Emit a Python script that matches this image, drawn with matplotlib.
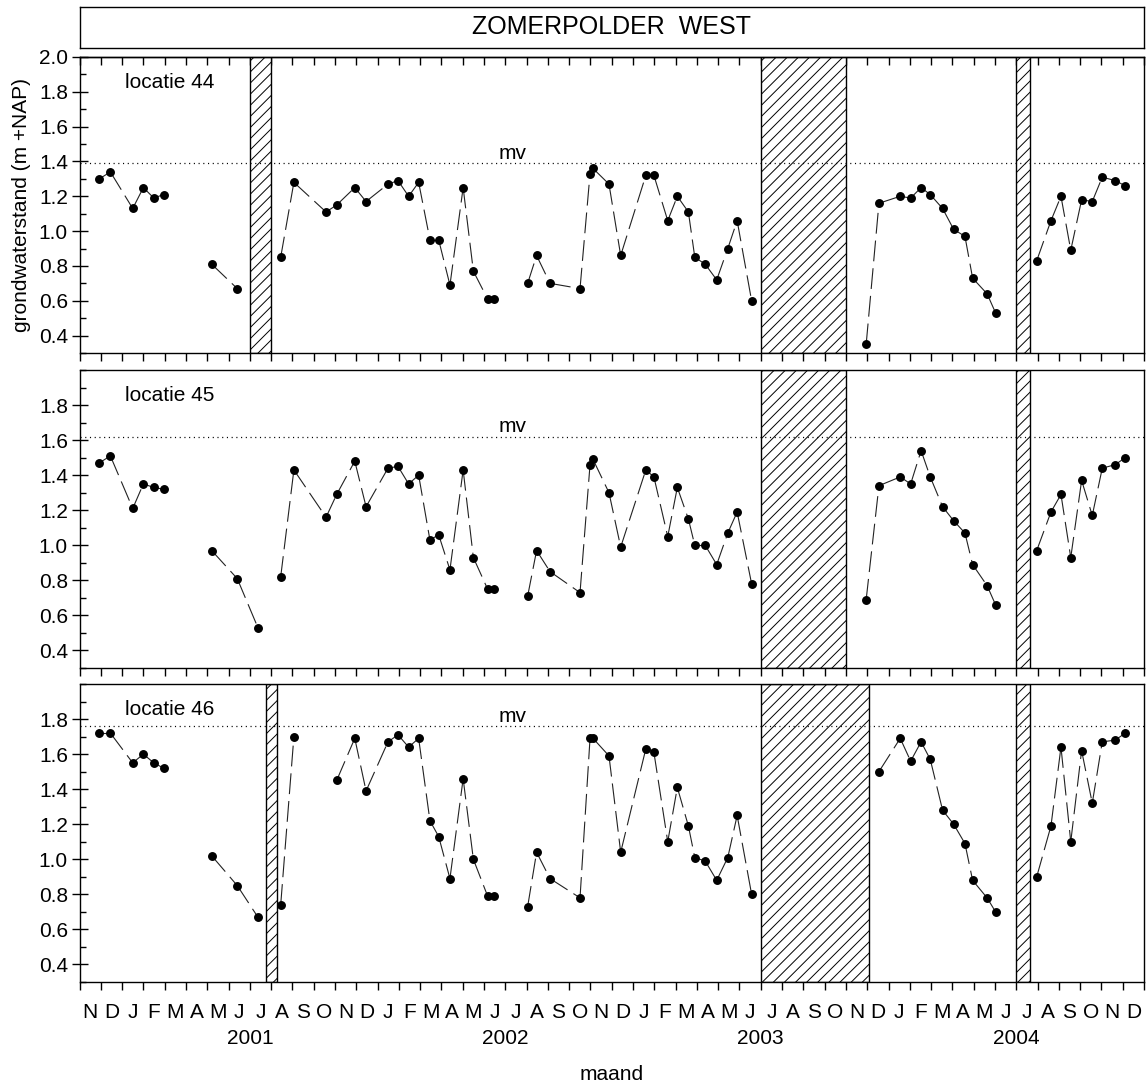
import numpy as np
import matplotlib
matplotlib.use('Agg')
import matplotlib.pyplot as plt
import matplotlib.transforms as mtransforms

plt.rcParams['font.family'] = ['Liberation Sans', 'DejaVu Sans']
plt.rcParams['hatch.linewidth'] = 0.7
plt.rcParams['lines.scale_dashes'] = False

title = "ZOMERPOLDER  WEST"
ylabel = "grondwaterstand (m +NAP)"
xlabel = "maand"
months = ['N', 'D'] + ['J', 'F', 'M', 'A', 'M', 'J', 'J', 'A', 'S', 'O', 'N', 'D'] * 4
years = ['2001', '2002', '2003', '2004']
year_mid = [8.0, 20.0, 32.0, 44.0]          # months since 1 Nov 2000
nan = np.nan

# sampling moments (months since 1 Nov 2000); nan marks a break in the line
t44 = [0.93, 1.45, 2.50, 3.00, 3.49, 3.95, nan, 6.21, 7.41, nan,
       9.45, 10.07, 11.58, 12.08, 12.93, 13.46, 14.49, 14.96, 15.46, 15.93,
       16.46, 16.87, 17.40, 18.02, 18.50, 19.17, 19.48, nan,
       21.05, 21.47, 22.10, 23.51, 23.98, 24.12, 24.87, 25.42, 26.60, 26.98,
       27.63, 28.08, 28.60, 28.90, 29.39, 29.93, 30.45, 30.89, 31.57, nan,
       36.95, 37.55, 38.55, 39.04, 39.53, 39.96, 40.54, 41.06, 41.59, 41.95,
       42.63, 43.03, nan,
       44.96, 45.63, 46.10, 46.56, 47.07, 47.57, 48.04, 48.65, 49.12]
v44 = [1.30, 1.34, 1.13, 1.25, 1.19, 1.21, nan, 0.81, 0.67, nan,
       0.85, 1.28, 1.11, 1.15, 1.25, 1.17, 1.27, 1.29, 1.20, 1.28,
       0.95, 0.95, 0.69, 1.25, 0.77, 0.61, 0.61, nan,
       0.70, 0.86, 0.70, 0.67, 1.33, 1.36, 1.27, 0.86, 1.32, 1.32,
       1.06, 1.20, 1.11, 0.85, 0.81, 0.72, 0.90, 1.06, 0.60, nan,
       0.35, 1.16, 1.20, 1.19, 1.25, 1.21, 1.13, 1.01, 0.97, 0.73,
       0.64, 0.53, nan,
       0.83, 1.06, 1.20, 0.89, 1.18, 1.17, 1.31, 1.29, 1.26]

t45 = [0.93, 1.45, 2.50, 3.00, 3.49, 3.95, nan, 6.21, 7.41, 8.38, nan,
       9.45, 10.07, 11.58, 12.08, 12.93, 13.46, 14.49, 14.96, 15.46, 15.93,
       16.46, 16.87, 17.40, 18.02, 18.50, 19.17, 19.48, nan,
       21.05, 21.47, 22.10, 23.51, 23.98, 24.12, 24.87, 25.42, 26.60, 26.98,
       27.63, 28.08, 28.60, 28.90, 29.39, 29.93, 30.45, 30.89, 31.57, nan,
       36.95, 37.55, 38.55, 39.04, 39.53, 39.96, 40.54, 41.06, 41.59, 41.95,
       42.63, 43.03, nan,
       44.96, 45.63, 46.10, 46.56, 47.07, 47.57, 48.04, 48.65, 49.12]
v45 = [1.47, 1.51, 1.21, 1.35, 1.33, 1.32, nan, 0.97, 0.81, 0.53, nan,
       0.82, 1.43, 1.16, 1.29, 1.48, 1.22, 1.44, 1.45, 1.35, 1.40,
       1.03, 1.06, 0.86, 1.43, 0.93, 0.75, 0.75, nan,
       0.71, 0.97, 0.85, 0.73, 1.46, 1.49, 1.30, 0.99, 1.43, 1.39,
       1.05, 1.33, 1.15, 1.00, 1.00, 0.89, 1.07, 1.19, 0.78, nan,
       0.69, 1.34, 1.39, 1.35, 1.54, 1.39, 1.22, 1.14, 1.07, 0.89,
       0.77, 0.66, nan,
       0.97, 1.19, 1.29, 0.93, 1.37, 1.17, 1.44, 1.46, 1.50]

t46 = [0.93, 1.45, 2.50, 3.00, 3.49, 3.95, nan, 6.21, 7.41, 8.38, nan,
       9.45, 10.07, nan, 12.08, 12.93, 13.46, 14.49, 14.96, 15.46, 15.93,
       16.46, 16.87, 17.40, 18.02, 18.50, 19.17, 19.48, nan,
       21.05, 21.47, 22.10, 23.51, 23.98, 24.12, 24.87, 25.42, 26.60, 26.98,
       27.63, 28.08, 28.60, 28.90, 29.39, 29.93, 30.45, 30.89, 31.57, nan,
       37.55, 38.55, 39.04, 39.53, 39.96, 40.54, 41.06, 41.59, 41.95,
       42.63, 43.03, nan,
       44.96, 45.63, 46.10, 46.56, 47.07, 47.57, 48.04, 48.65, 49.12]
v46 = [1.72, 1.72, 1.55, 1.60, 1.55, 1.52, nan, 1.02, 0.85, 0.67, nan,
       0.74, 1.70, nan, 1.45, 1.69, 1.39, 1.67, 1.71, 1.64, 1.69,
       1.22, 1.13, 0.89, 1.46, 1.00, 0.79, 0.79, nan,
       0.73, 1.04, 0.89, 0.78, 1.69, 1.69, 1.59, 1.04, 1.63, 1.61,
       1.10, 1.41, 1.19, 1.01, 0.99, 0.88, 1.01, 1.25, 0.80, nan,
       1.50, 1.69, 1.56, 1.67, 1.57, 1.28, 1.20, 1.09, 0.88,
       0.78, 0.70, nan,
       0.90, 1.19, 1.64, 1.10, 1.62, 1.32, 1.67, 1.68, 1.72]

# dry periods (hatched), months since 1 Nov 2000
dry44 = [(8.0, 9.0), (32.0, 36.0), (43.97, 44.65)]
dry45 = [(32.0, 36.0), (43.97, 44.65)]
dry46 = [(8.74, 9.26), (32.0, 37.08), (43.97, 44.65)]

mv_levels = [1.39, 1.62, 1.76]
names = ['locatie 44', 'locatie 45', 'locatie 46']

panels = [(t44, v44, dry44), (t45, v45, dry45), (t46, v46, dry46)]

W, H = 1146, 1090
fig = plt.figure(figsize=(W / 100, H / 100), dpi=100)


def fax(x0, y0, x1, y1):
    return fig.add_axes([x0 / W, 1 - y1 / H, (x1 - x0) / W, (y1 - y0) / H])


FS = 15
# title box
tax = fax(80, 7, 1144, 48)
tax.set_xticks([])
tax.set_yticks([])
for s in tax.spines.values():
    s.set_linewidth(1.0)
tax.text(0.5, 0.5, title, ha='center', va='center', fontsize=18, transform=tax.transAxes)

panel_px = [(57, 353), (370, 668), (684, 982)]
axes = []
for k, ((t, v, dry), (y0, y1)) in enumerate(zip(panels, panel_px)):
    ax = fax(79.5, y0, 1144, y1)
    axes.append(ax)
    ax.set_xlim(0, 50)
    ax.set_ylim(0.3, 2.0)
    for s in ax.spines.values():
        s.set_linewidth(1.0)
    for (a, b) in dry:
        ax.axvspan(a, b, facecolor='white', edgecolor='black', hatch='///',
                   linewidth=1.0, zorder=1)
    ax.axhline(mv_levels[k], color='black', linestyle=(0, (0.8, 2.6)), linewidth=0.9, zorder=2)
    ax.annotate('mv', xy=(0.407, mv_levels[k]), xycoords=('axes fraction', 'data'),
                xytext=(0, 7), textcoords='offset points', ha='center', va='center',
                fontsize=FS)
    ta = np.array(t, dtype=float)
    va_ = np.array(v, dtype=float)
    for i in range(len(ta) - 1):
        if np.isfinite(va_[i]) and np.isfinite(va_[i + 1]):
            ax.plot(ta[i:i + 2], va_[i:i + 2], color='#222222', linewidth=0.8,
                    dashes=(15, 5), zorder=3)
    ax.plot(ta, va_, 'o', color='black', markersize=5.4, linestyle='none', zorder=4)
    ax.text(0.043, 0.915, names[k], transform=ax.transAxes, ha='left', va='center', fontsize=FS)

    # y ticks
    top = 2.0 if k == 0 else 1.8
    major = np.round(np.arange(0.4, top + 0.001, 0.2), 1)
    minor = np.round(np.arange(0.3, 2.0 + 0.001, 0.1), 1)
    minor = [m for m in minor if not np.any(np.isclose(m, major))]
    ax.set_yticks(major)
    ax.set_yticklabels([f'{m:.1f}' for m in major])
    ax.set_yticks(minor, minor=True)
    ax.tick_params(axis='y', which='major', direction='inout', length=11, width=1,
                   labelsize=FS, pad=2.8, right=False)
    ax.tick_params(axis='y', which='minor', direction='in', length=4, width=1, right=False)

    # x ticks at month boundaries
    ax.set_xticks(np.arange(0, 51))
    ax.tick_params(axis='x', which='major', direction='out', length=5.5, width=1,
                   labelbottom=False, top=False)
    if k == 0:
        sec = ax.secondary_xaxis('top')
        sec.set_xticks(np.arange(0, 51))
        sec.tick_params(direction='in', length=5.5, width=1, labeltop=False)
        sec.spines['top'].set_linewidth(1.0)

# month and year labels under the bottom panel
ax3 = axes[-1]
trans = mtransforms.blended_transform_factory(ax3.transData, ax3.transAxes)
for i, m in enumerate(months):
    ax3.text(i + 0.5, -30 / 298, m, transform=trans, ha='center', va='center', fontsize=FS)
for yl, ym in zip(years, year_mid):
    ax3.text(ym, -57 / 298, yl, transform=trans, ha='center', va='center', fontsize=FS)

fig.text(612 / W, 1 - 1075 / H, xlabel, ha='center', va='center', fontsize=FS)
fig.text(22 / W, 1 - 205 / H, ylabel, ha='center', va='center', rotation=90, fontsize=FS)

fig.savefig('out.png', dpi=100)
